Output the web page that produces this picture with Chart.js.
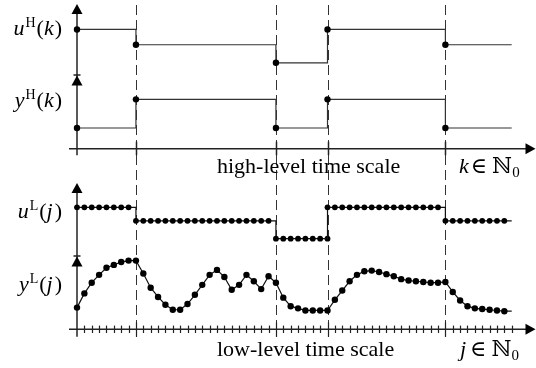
<!DOCTYPE html>
<html>
<head>
<meta charset="utf-8">
<script src="https://cdn.jsdelivr.net/npm/chart.js@4.4.1/dist/chart.umd.min.js"></script>
<style>
  html, body { margin: 0; padding: 0; background: #fff; }
  #wrap { width: 536px; height: 368px; }
</style>
</head>
<body>
<div id="wrap"><canvas id="timescale-chart" width="536" height="368"></canvas></div>
<script>
/* ============================================= */
/*                     Data                      */
/* ============================================= */

// low-level index j at which each high-level step k begins
const kInstants = [0, 8, 27, 34, 50];
const jLast = 59;

// high-level signals, one value per k
const uHigh = [0.69, 0.47, 0.21, 0.69, 0.47];
const yHigh = [0.30, 0.70, 0.30, 0.70, 0.30];

// low-level signals, one value per j (0..58)
const uLow = [
    0.66, 0.66, 0.66, 0.66, 0.66, 0.66, 0.66, 0.66,
    0.47, 0.47, 0.47, 0.47, 0.47, 0.47, 0.47, 0.47, 0.47, 0.47,
    0.47, 0.47, 0.47, 0.47, 0.47, 0.47, 0.47, 0.47, 0.47,
    0.22, 0.22, 0.22, 0.22, 0.22, 0.22, 0.22,
    0.66, 0.66, 0.66, 0.66, 0.66, 0.66, 0.66, 0.66,
    0.66, 0.66, 0.66, 0.66, 0.66, 0.66, 0.66, 0.66,
    0.47, 0.47, 0.47, 0.47, 0.47, 0.47, 0.47, 0.47, 0.47
];
// the extra held sample drawn at the k = 3 boundary
const uLowExtraJ = [34];
const uLowExtra = [0.22];

const yLow = [
    0.26, 0.46, 0.61, 0.72, 0.82, 0.86, 0.90, 0.92,
    0.92, 0.74, 0.54, 0.41, 0.30, 0.23, 0.23, 0.31, 0.44, 0.58, 0.72,
    0.79, 0.69, 0.51, 0.58, 0.72, 0.63, 0.52, 0.70,
    0.61, 0.40, 0.28, 0.25, 0.22, 0.22, 0.22,
    0.22, 0.37, 0.50, 0.63, 0.72, 0.77, 0.78, 0.76, 0.73, 0.70,
    0.66, 0.64, 0.63, 0.62, 0.61, 0.61,
    0.62, 0.48, 0.36, 0.28, 0.25, 0.24, 0.23, 0.22, 0.21
];

/* ============================================= */
/*                    Layout                     */
/* ============================================= */

const W = 536, H = 368;
// pixel rows of value 0 and value 1 for each signal band
const bands = {
    uH: [75, 4],
    yH: [148.7, 75.5],
    uL: [256, 183],
    yL: [329.3, 256.5]
};

function bandScale(band) {
    const p0 = band[0], p1 = band[1];
    const min = -(H - p0) / (p0 - p1);
    return { type: 'linear', display: false, position: 'left', min: min, max: min + H / (p0 - p1) };
}

const SERIF = '"Liberation Serif", "Times New Roman", "DejaVu Serif", serif';
const RM = '22px ' + SERIF;
const IT = 'italic 22px ' + SERIF;
const SUP = '14px ' + SERIF;
const SUB = '15px ' + SERIF;
const INK = '#111';

/* ============================================= */
/*                   Datasets                    */
/* ============================================= */

function highPoints(vals) {
    const pts = vals.map((v, i) => ({ x: kInstants[i], y: v }));
    pts.push({ x: jLast, y: vals[vals.length - 1] });
    return pts;
}

function lowPoints(vals) {
    const pts = vals.map((v, j) => ({ x: j, y: v }));
    pts.push({ x: jLast, y: vals[vals.length - 1] });
    return pts;
}

function dotOrNone(r) {
    return ctx => (ctx.dataIndex < ctx.dataset.data.length - 1 ? r : 0);
}

const common = {
    borderColor: INK,
    borderWidth: 1.2,
    pointBackgroundColor: '#000',
    pointBorderWidth: 0,
    clip: false,
    tension: 0
};

const datasets = [
    Object.assign({}, common, { data: highPoints(uHigh), yAxisID: 'uH', stepped: true, borderColor: '#333', pointRadius: dotOrNone(3.2) }),
    Object.assign({}, common, { data: highPoints(yHigh), yAxisID: 'yH', stepped: true, borderColor: '#333', pointRadius: dotOrNone(3.2) }),
    Object.assign({}, common, { data: lowPoints(uLow), yAxisID: 'uL', stepped: true, pointRadius: dotOrNone(2.9) }),
    Object.assign({}, common, {
        data: uLowExtra.map((v, i) => ({ x: uLowExtraJ[i], y: v })),
        yAxisID: 'uL', showLine: false, pointRadius: 2.9
    }),
    Object.assign({}, common, { data: lowPoints(yLow), yAxisID: 'yL', pointRadius: dotOrNone(3.2) })
];

/* ============================================= */
/*               Axes, arrows, text              */
/* ============================================= */

function line(ctx, x1, y1, x2, y2) {
    ctx.beginPath();
    ctx.moveTo(x1, y1);
    ctx.lineTo(x2, y2);
    ctx.stroke();
}

function arrowUp(ctx, x, tip) {
    ctx.beginPath();
    ctx.moveTo(x, tip);
    ctx.lineTo(x - 5.5, tip + 10);
    ctx.lineTo(x + 5.5, tip + 10);
    ctx.closePath();
    ctx.fill();
}

function arrowRight(ctx, tip, y) {
    ctx.beginPath();
    ctx.moveTo(tip, y);
    ctx.lineTo(tip - 10, y - 5.5);
    ctx.lineTo(tip - 10, y + 5.5);
    ctx.closePath();
    ctx.fill();
}

// runs: [text, font, dy, gapAfter]
function drawRuns(ctx, runs, x, y, alignRight) {
    let total = 0;
    runs.forEach(r => { ctx.font = r[1]; total += ctx.measureText(r[0]).width + (r[3] || 0); });
    let cx = alignRight ? x - total : x;
    ctx.textBaseline = 'alphabetic';
    ctx.textAlign = 'left';
    runs.forEach(r => {
        ctx.font = r[1];
        ctx.fillText(r[0], cx, y + (r[2] || 0));
        cx += ctx.measureText(r[0]).width + (r[3] || 0);
    });
}

const diagram = {
    id: 'diagram',
    beforeDatasetsDraw(chart) {
        const ctx = chart.ctx;
        const xs = chart.scales.x;
        const x0 = xs.getPixelForValue(0);
        const xEnd = W - 0.5;
        ctx.save();
        ctx.fillStyle = '#000';

        // dashed lines at the high-level instants
        ctx.strokeStyle = '#333';
        ctx.lineWidth = 1;
        ctx.setLineDash([10, 5]);
        kInstants.slice(1).forEach(k => {
            const px = Math.round(xs.getPixelForValue(k)) + 0.5;
            line(ctx, px, 5, px, 337);
        });
        ctx.setLineDash([]);

        ctx.strokeStyle = '#222';
        ctx.lineWidth = 1.5;

        // high-level frame
        const hAxis = bands.yH[0];
        line(ctx, x0, hAxis + 6.5, x0, bands.uH[1] + 4);
        arrowUp(ctx, x0, bands.uH[1]);
        line(ctx, x0 - 3.5, bands.uH[0], x0 + 3.5, bands.uH[0]);
        arrowUp(ctx, x0, bands.yH[1]);
        line(ctx, x0 - 8, hAxis, xEnd - 4, hAxis);
        arrowRight(ctx, xEnd, hAxis);
        kInstants.slice(1).forEach(k => {
            const px = Math.round(xs.getPixelForValue(k)) + 0.5;
            line(ctx, px, hAxis - 7, px, hAxis + 6.5);
        });

        // low-level frame
        const lAxis = bands.yL[0];
        line(ctx, x0, lAxis + 7.5, x0, bands.uL[1] + 4);
        arrowUp(ctx, x0, bands.uL[1]);
        line(ctx, x0 - 3.5, bands.uL[0], x0 + 3.5, bands.uL[0]);
        arrowUp(ctx, x0, bands.yL[1]);
        line(ctx, x0 - 8, lAxis, xEnd - 4, lAxis);
        arrowRight(ctx, xEnd, lAxis);
        ctx.lineWidth = 1.2;
        for (let j = 1; j <= jLast; j++) {
            const px = Math.round(xs.getPixelForValue(j)) + 0.5;
            const big = kInstants.indexOf(j) > 0;
            line(ctx, px, lAxis - (big ? 7 : 3.7), px, lAxis + (big ? 7.5 : 3.7));
        }
        ctx.restore();
    },
    afterDraw(chart) {
        const ctx = chart.ctx;
        ctx.save();
        ctx.fillStyle = '#000';

        drawRuns(ctx, [['u', IT, 0, 1], ['H', SUP, -8, 1], ['(', RM], ['k', IT, 0, 1], [')', RM]], 62, 35, true);
        drawRuns(ctx, [['y', IT, 0, 1], ['H', SUP, -8, 1], ['(', RM], ['k', IT, 0, 1], [')', RM]], 62, 107, true);
        drawRuns(ctx, [['u', IT, 0, 1], ['L', SUP, -8, 1], ['(', RM], ['j', IT, 0, 2], [')', RM]], 62, 217.5, true);
        drawRuns(ctx, [['y', IT, 0, 1], ['L', SUP, -8, 1], ['(', RM], ['j', IT, 0, 2], [')', RM]], 62, 291, true);

        drawRuns(ctx, [['high-level time scale', RM]], 217, 173, false);
        drawRuns(ctx, [['low-level time scale', RM]], 217, 356, false);
        drawRuns(ctx, [['k', IT, 0, 2], ['\u2208', RM, 0, 5], ['\u2115', RM], ['0', SUB, 4]], 459, 173, false);
        drawRuns(ctx, [['j', IT, 0, 4], ['\u2208', RM, 0, 5], ['\u2115', RM], ['0', SUB, 4]], 460, 356, false);
        ctx.restore();
    }
};

/* ============================================= */
/*                    Chart                      */
/* ============================================= */

const chartCanvas = document.getElementById('timescale-chart');

let timescaleChart = new Chart(chartCanvas, {
    type: 'line',
    data: { datasets: datasets },
    options: {
        responsive: false,
        animation: false,
        events: [],
        layout: { padding: { left: 77, right: W - 511.7, top: 0, bottom: 0 } },
        scales: {
            x: { type: 'linear', display: false, min: 0, max: jLast },
            uH: bandScale(bands.uH),
            yH: bandScale(bands.yH),
            uL: bandScale(bands.uL),
            yL: bandScale(bands.yL)
        },
        plugins: {
            legend: { display: false },
            tooltip: { enabled: false }
        }
    },
    plugins: [diagram]
});
</script>
</body>
</html>
